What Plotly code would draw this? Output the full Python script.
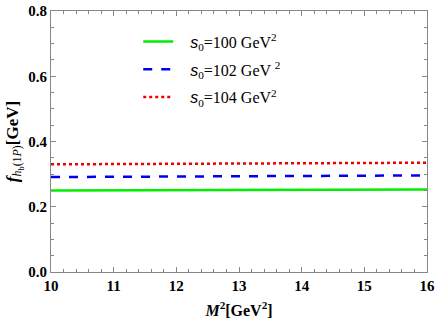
import plotly.graph_objects as go

M2 = [10, 13, 16]
f_s100 = [0.250, 0.252, 0.253]
f_s102 = [0.291, 0.294, 0.296]
f_s104 = [0.330, 0.333, 0.335]
pad = "&nbsp;&nbsp;&nbsp;"
names = [pad + "<span style='font-family:Liberation Sans'><i>s</i></span><sub>0</sub>=100 GeV<sup>2</sup>",
         pad + "<span style='font-family:Liberation Sans'><i>s</i></span><sub>0</sub>=102 GeV <sup>2</sup>",
         pad + "<span style='font-family:Liberation Sans'><i>s</i></span><sub>0</sub>=104 GeV<sup>2</sup>"]
x_ticks = [10, 11, 12, 13, 14, 15, 16]
y_ticks = [0.0, 0.2, 0.4, 0.6, 0.8]

fig = go.Figure()
styles = [("#00ee00", "solid", 2.5), ("#0000ee", "dash", 2.5), ("#ee0000", "dot", 2.5)]
for i, (ys, nm, (c, d, w)) in enumerate(zip([f_s100, f_s102, f_s104], names, styles)):
    fig.add_trace(go.Scatter(x=M2, y=ys, mode="lines", name=nm, legendgroup=str(i),
                             line=dict(color=c, dash=d, width=w)))

font = "Liberation Serif"
axis_common = dict(showline=True, linecolor="#888888", linewidth=1, mirror="ticks",
                   ticks="inside", tickcolor="#888888", ticklen=5, showgrid=False,
                   zeroline=False, ticklabeloverflow="allow",
                   tickfont=dict(family=font, size=15, color="black"))
fig.update_xaxes(range=[10, 16], tickvals=x_ticks, ticktext=[f"<b>{v}</b>" for v in x_ticks],
                 minor=dict(dtick=0.2, ticks="inside", ticklen=3, tickcolor="#888888"),
                 title=dict(text="<b><i>M</i><sup>2</sup>[GeV<sup>2</sup>]</b>",
                            font=dict(family=font, size=16, color="black"), standoff=11),
                 **axis_common)
fig.update_yaxes(range=[0, 0.8], tickvals=y_ticks, ticktext=[f"<b>{v:.1f}</b>" for v in y_ticks],
                 minor=dict(dtick=0.05, ticks="inside", ticklen=3, tickcolor="#888888"),
                 title=dict(text="<b><i>f</i></b><sub><i>h</i><sub>b</sub>(1<i>P</i>)</sub><b>[GeV]</b>",
                            font=dict(family=font, size=17, color="black"), standoff=5),
                 **axis_common)
fig.update_layout(width=436, height=327, margin=dict(l=51, r=9, t=11, b=55, autoexpand=False),
                  plot_bgcolor="white", paper_bgcolor="white",
                  legend=dict(x=0.232, y=0.948, xanchor="left", yanchor="top",
                              bgcolor="rgba(0,0,0,0)", tracegroupgap=4, itemwidth=30,
                              font=dict(family=font, size=16, color="black")))
fig.write_html("out.html", config={"displayModeBar": False},
               post_script="document.body.style.margin='0';document.body.style.overflow='hidden';")
